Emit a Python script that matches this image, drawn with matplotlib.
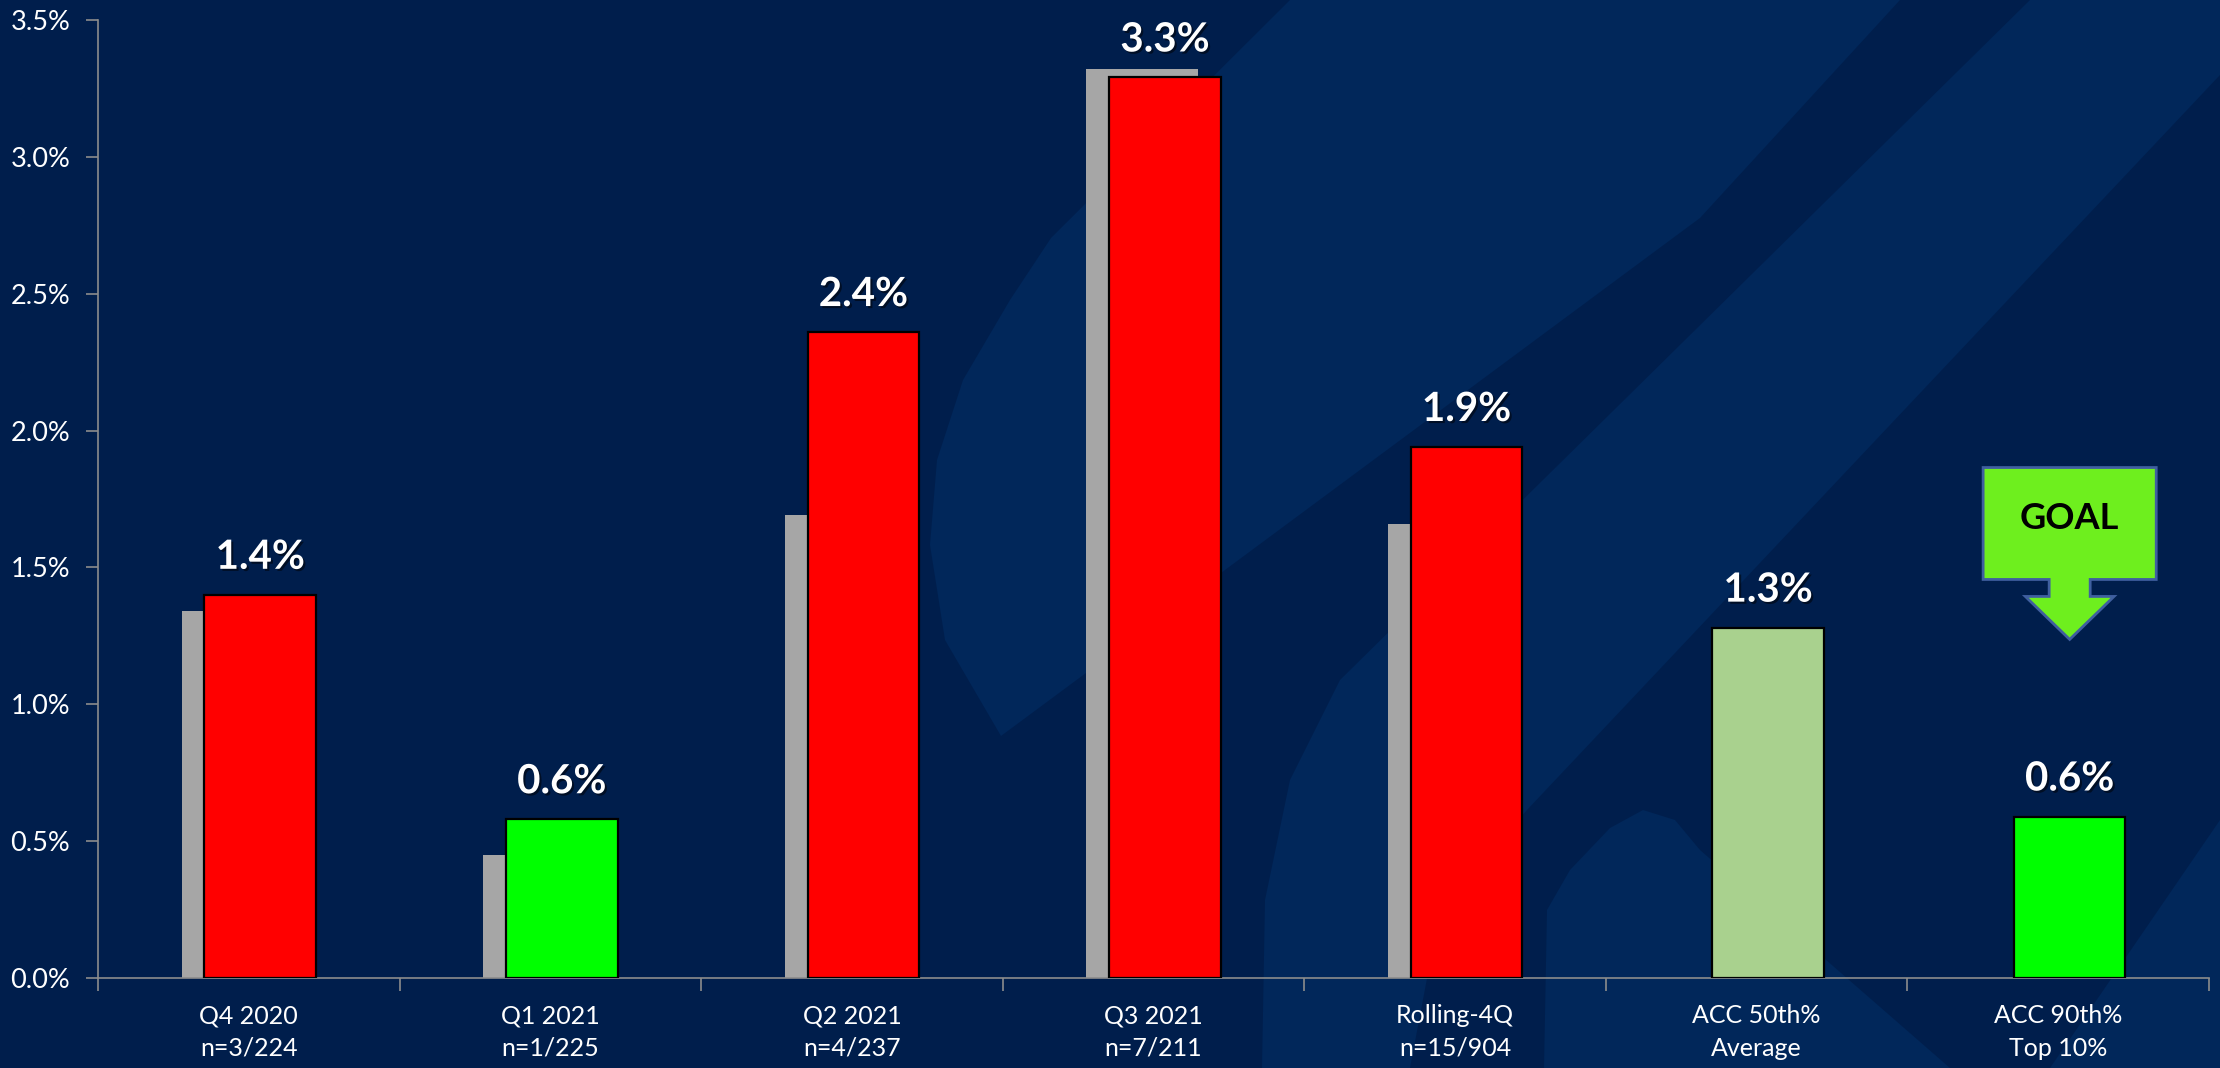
import numpy as np
import matplotlib.pyplot as plt
from matplotlib.patches import Polygon
import matplotlib.patheffects as pe

# data
cats = ['Q4 2020\nn=3/224', 'Q1 2021\nn=1/225', 'Q2 2021\nn=4/237', 'Q3 2021\nn=7/211',
        'Rolling-4Q\nn=15/904', 'ACC 50th%\nAverage', 'ACC 90th%\nTop 10%']
prior = [1.34, 0.45, 1.69, 3.32, 1.66, 0.0, 0.0]
current = [1.40, 0.58, 2.36, 3.29, 1.94, 1.28, 0.59]
bar_colors = ['#FF0000', '#00FF00', '#FF0000', '#FF0000', '#FF0000', '#A9D18E', '#00FF00']

bg = '#001E4C'
light = '#01275A'

fig = plt.figure(figsize=(22.2, 10.68), dpi=100)
fig.patch.set_facecolor(bg)

# watermark shapes behind the chart (pixel coords, 2220x1068 frame)
bgax = fig.add_axes([0, 0, 1, 1], zorder=-1)
bgax.set_xlim(0, 2220)
bgax.set_ylim(1068, 0)
bgax.axis('off')

def wm(pts):
    bgax.add_patch(Polygon(pts, closed=True, facecolor=light, edgecolor='none'))

wm([(1290, 0), (1900, 0), (1700, 218), (1001, 736), (945, 640), (930, 545), (937, 460), (963, 380),
    (1010, 300), (1051, 238)])
wm([(2030, 0), (2220, 0), (2220, 75), (1527, 810), (1440, 910), (1410, 1068), (1262, 1068), (1265, 900),
    (1290, 780), (1340, 680)])
wm([(1544, 1068), (1547, 910), (1570, 870), (1610, 828), (1643, 810), (1675, 820), (1700, 850), (1950, 1068)])
wm([(2050, 1068), (2220, 820), (2220, 1068)])

ax = fig.add_axes([98 / 2220, 1 - 978 / 1068, (2209 - 98) / 2220, (978 - 20) / 1068])
ax.set_facecolor('none')

x = np.arange(len(cats))
w = 0.37
ax.bar(x - 0.038, prior, w, color='#A6A6A6', zorder=2)
ax.bar(x + 0.038, current, w, color=bar_colors, edgecolor='black', linewidth=1.6, zorder=3)

for xi, v in zip(x, current):
    ax.annotate(f'{v:.1f}%', (xi + 0.038, v), xytext=(0, 26), textcoords='offset pixels',
                ha='center', va='baseline', fontsize=29, fontweight='bold', color='white',
                family='Lato', zorder=5,
                path_effects=[pe.withSimplePatchShadow(offset=(1.5, -1.5), shadow_rgbFace='black', alpha=0.5)])

# GOAL arrow above the last bar
gx = x[-1] + 0.038
bw, sw, hw = 0.287, 0.068, 0.147
ytop, ybox, yshaft, ytip = 1.865, 1.456, 1.394, 1.237
arrow = Polygon([(gx - bw, ytop), (gx + bw, ytop), (gx + bw, ybox), (gx + sw, ybox), (gx + sw, yshaft),
                 (gx + hw, yshaft), (gx, ytip), (gx - hw, yshaft), (gx - sw, yshaft), (gx - sw, ybox),
                 (gx - bw, ybox)], closed=True, facecolor='#6EEF1E', edgecolor='#3F5F9F', linewidth=2, zorder=4)
ax.add_patch(arrow)
ax.text(gx, (ytop + ybox) / 2 + 0.02, 'GOAL', ha='center', va='center', fontsize=26, fontweight='bold',
        color='black', family='Lato', zorder=5)

ax.set_xlim(-0.5, len(cats) - 0.5)
ax.set_ylim(0, 3.5)
ax.set_yticks(np.arange(0, 3.51, 0.5))
ax.set_yticklabels([f'{t:.1f}%' for t in np.arange(0, 3.51, 0.5)])
ax.set_xticks(x)
ax.set_xticklabels(cats, linespacing=1.5)
ax.set_xticks(np.arange(-0.5, len(cats), 1), minor=True)
ax.tick_params(axis='x', which='major', length=0, pad=19, labelsize=18, labelcolor='white')
ax.tick_params(axis='x', which='minor', length=9, color='#8C8C8C', width=1.2)
ax.tick_params(axis='y', length=9, color='#8C8C8C', width=1.2, labelsize=19.5, labelcolor='white', pad=11)
for lbl in ax.get_xticklabels() + ax.get_yticklabels():
    lbl.set_family('Lato')

for s in ['top', 'right']:
    ax.spines[s].set_visible(False)
for s in ['left', 'bottom']:
    ax.spines[s].set_color('#8C8C8C')
    ax.spines[s].set_linewidth(1.2)

plt.savefig('out.png', dpi=100, facecolor=fig.get_facecolor())
